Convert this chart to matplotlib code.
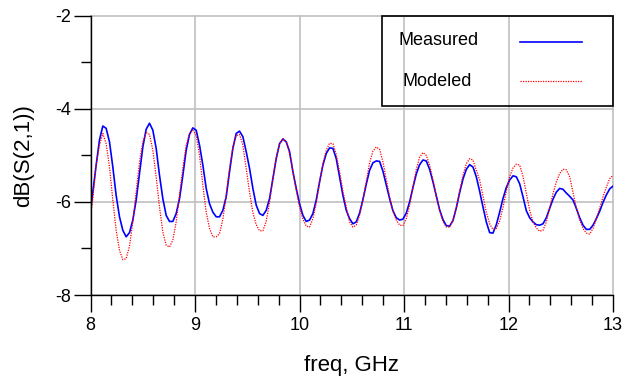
import numpy as np
import matplotlib.pyplot as plt
from matplotlib.patches import Rectangle
from matplotlib.ticker import MultipleLocator

plt.rcParams['font.family'] = ['Liberation Sans', 'DejaVu Sans']
plt.rcParams['axes.unicode_minus'] = False

# frequency sweep, GHz (158 points)
freq = np.linspace(7.99, 13.0, 158)

# measured dB(S(2,1))
measured = [
    -6.43, -5.79, -5.21, -4.67, -4.37, -4.42, -4.71, -5.25, -5.86, -6.32,
    -6.61, -6.75, -6.66, -6.39, -5.96, -5.39, -4.82, -4.44, -4.31, -4.46,
    -4.85, -5.43, -5.93, -6.29, -6.42, -6.42, -6.25, -5.93, -5.43, -4.89,
    -4.55, -4.41, -4.46, -4.78, -5.21, -5.71, -6.04, -6.22, -6.32,
    -6.32, -6.18, -5.89, -5.35, -4.85, -4.53, -4.48, -4.60, -4.92, -5.28,
    -5.71, -6.07, -6.25, -6.29, -6.18, -5.93, -5.50, -5.07, -4.75, -4.65,
    -4.71, -4.92, -5.35, -5.71, -6.04, -6.29, -6.42, -6.39, -6.25, -5.96,
    -5.57, -5.21, -4.96, -4.84, -4.85, -5.07, -5.46, -5.86, -6.18,
    -6.36, -6.47, -6.43, -6.24, -5.95, -5.62, -5.32, -5.16, -5.12, -5.13,
    -5.34, -5.64, -5.93, -6.19, -6.34, -6.39, -6.37, -6.24, -6.00, -5.69,
    -5.40, -5.20, -5.10, -5.12, -5.30, -5.57, -5.87, -6.17, -6.38, -6.51,
    -6.52, -6.40, -6.13, -5.80, -5.51, -5.30, -5.20, -5.25, -5.46,
    -5.77, -6.11, -6.43, -6.66, -6.67, -6.49, -6.22, -5.93, -5.69, -5.53,
    -5.44, -5.46, -5.61, -5.89, -6.19, -6.34, -6.43, -6.49, -6.50, -6.47,
    -6.34, -6.14, -5.94, -5.79, -5.71, -5.73, -5.81, -5.88, -5.96, -6.14,
    -6.34, -6.50, -6.59, -6.59, -6.50, -6.36, -6.20, -6.01, -5.85, -5.72,
    -5.66,
]

# modeled dB(S(2,1))
modeled = [
    -6.50, -5.93, -5.21, -4.78, -4.53, -4.75, -5.25, -5.96, -6.61, -7.04,
    -7.24, -7.22, -6.95, -6.43, -5.79, -5.14, -4.71, -4.51, -4.55, -4.89,
    -5.46, -6.11, -6.65, -6.93, -6.97, -6.82, -6.43, -5.86, -5.28, -4.78,
    -4.53, -4.46, -4.57, -5.00, -5.64, -6.22, -6.57, -6.75, -6.75,
    -6.68, -6.37, -5.86, -5.28, -4.82, -4.58, -4.55, -4.78, -5.28, -5.79,
    -6.23, -6.49, -6.62, -6.62, -6.42, -6.00, -5.50, -5.05, -4.75, -4.64,
    -4.70, -4.96, -5.34, -5.75, -6.11, -6.37, -6.52, -6.54, -6.36, -6.02,
    -5.58, -5.18, -4.89, -4.74, -4.75, -4.98, -5.35, -5.77, -6.11,
    -6.43, -6.54, -6.50, -6.29, -5.96, -5.57, -5.16, -4.91, -4.82, -4.87,
    -5.14, -5.52, -5.89, -6.20, -6.39, -6.50, -6.51, -6.36, -6.07, -5.68,
    -5.30, -5.04, -4.94, -5.00, -5.21, -5.53, -5.88, -6.18, -6.42, -6.54,
    -6.54, -6.40, -6.13, -5.77, -5.43, -5.18, -5.07, -5.10, -5.32,
    -5.53, -5.87, -6.22, -6.47, -6.59, -6.57, -6.41, -6.12, -5.77, -5.46,
    -5.27, -5.19, -5.21, -5.45, -5.82, -6.18, -6.43, -6.56, -6.63, -6.61,
    -6.43, -6.13, -5.82, -5.57, -5.39, -5.30, -5.31, -5.46, -5.79, -6.13,
    -6.39, -6.57, -6.67, -6.69, -6.57, -6.36, -6.13, -5.89, -5.68, -5.50,
    -5.43,
]

fig = plt.figure(figsize=(6.23, 3.81), dpi=100)
ax = fig.add_axes([0.1453, 0.2257, 0.8387, 0.7331])

ax.plot(freq, measured, color='#0000ff', lw=1.2, zorder=3)
ax.plot(freq, modeled, color='#ff0000', lw=0.9, linestyle=(0, (1, 1)), zorder=4)

ax.set_xlim(8, 13)
ax.set_ylim(-8, -2)
ax.xaxis.set_major_locator(MultipleLocator(1))
ax.xaxis.set_minor_locator(MultipleLocator(0.2))
ax.yaxis.set_major_locator(MultipleLocator(2))
ax.yaxis.set_minor_locator(MultipleLocator(1))

ax.grid(True, which='major', color='#c0c0c0', lw=1.2)
for gl in ax.get_xgridlines() + ax.get_ygridlines():
    gl.set_clip_on(False)
ax.set_axisbelow(True)

for side in ('top', 'right'):
    ax.spines[side].set_visible(False)
for side in ('left', 'bottom'):
    ax.spines[side].set_linewidth(1.0)
    ax.spines[side].set_zorder(5)

ax.tick_params(which='major', direction='out', length=12, width=1.0,
               labelsize=13, pad=2)
ax.tick_params(which='minor', direction='out', length=7, width=1.0)
ax.tick_params(axis='x', which='major', pad=4)

ax.set_xlabel('freq, GHz', fontsize=16, labelpad=15)
ax.set_ylabel('dB(S(2,1))', fontsize=16, labelpad=15)

# legend box, drawn by hand like the original
ax.add_patch(Rectangle((0.558, 0.677), 0.442, 0.323, transform=ax.transAxes,
                       fill=False, edgecolor='black', lw=1.2, clip_on=False,
                       zorder=6))
ax.text(0.5885, 0.9105, 'Measured', transform=ax.transAxes, fontsize=13,
        va='center', ha='left')
ax.text(0.598, 0.766, 'Modeled', transform=ax.transAxes, fontsize=13,
        va='center', ha='left')
ax.plot([0.822, 0.941], [0.907, 0.907], transform=ax.transAxes,
        color='#0000ff', lw=1.2, clip_on=False)
ax.plot([0.822, 0.941], [0.766, 0.766], transform=ax.transAxes,
        color='#ff0000', lw=0.9, linestyle=(0, (1, 1)), clip_on=False)

plt.savefig('out.png', dpi=100)
